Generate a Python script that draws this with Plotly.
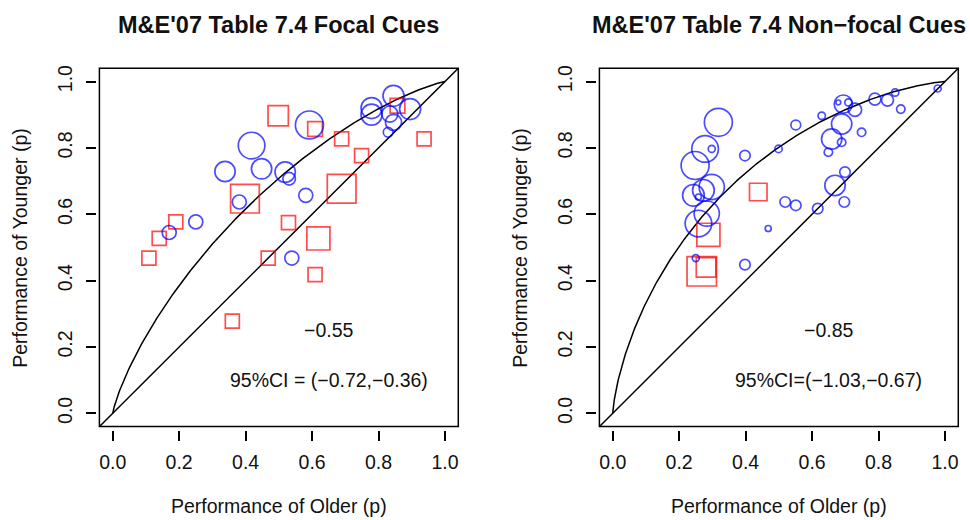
import numpy as np
import plotly.graph_objects as go
from statistics import NormalDist

# ---------------- data ----------------
# Focal cues: proportion correct for older (x) and younger (y) groups
focal_circ_old = [0.845, 0.779, 0.779, 0.895, 0.834, 0.845, 0.829, 0.592, 0.418,
                  0.338, 0.448, 0.519, 0.531, 0.581, 0.381, 0.250, 0.170, 0.539]
focal_circ_young = [0.957, 0.920, 0.900, 0.917, 0.902, 0.877, 0.847, 0.869, 0.807,
                    0.729, 0.737, 0.727, 0.707, 0.657, 0.637, 0.577, 0.545, 0.468]
focal_circ_wt = [3.0, 3.0, 3.0, 3.0, 2.3, 2.3, 1.4, 4.0, 3.8,
                 2.9, 2.9, 2.9, 1.8, 2.0, 2.0, 2.0, 2.0, 2.0]

focal_sq_old = [0.498, 0.609, 0.689, 0.857, 0.937, 0.749, 0.398, 0.689,
                0.619, 0.529, 0.190, 0.140, 0.109, 0.468, 0.609, 0.360]
focal_sq_young = [0.897, 0.857, 0.827, 0.927, 0.827, 0.777, 0.647, 0.677,
                  0.527, 0.575, 0.577, 0.527, 0.468, 0.468, 0.418, 0.278]
focal_sq_wt = [2.9, 2.1, 2.0, 2.1, 2.0, 2.0, 4.1, 4.1,
               3.3, 2.0, 2.0, 2.0, 2.0, 2.0, 2.0, 2.0]

# Non-focal cues
nonfocal_circ_old = [0.978, 0.850, 0.827, 0.789, 0.867, 0.694, 0.679, 0.709, 0.729,
                     0.629, 0.689, 0.749, 0.659, 0.689, 0.649, 0.551, 0.499, 0.398,
                     0.318, 0.278, 0.298, 0.248, 0.298, 0.273, 0.243, 0.258, 0.283,
                     0.258, 0.699, 0.669, 0.519, 0.551, 0.697, 0.617, 0.468, 0.250,
                     0.398]
nonfocal_circ_young = [0.979, 0.967, 0.944, 0.947, 0.917, 0.932, 0.937, 0.937, 0.915,
                       0.897, 0.872, 0.847, 0.827, 0.817, 0.787, 0.869, 0.797, 0.777,
                       0.877, 0.797, 0.797, 0.747, 0.682, 0.672, 0.657, 0.652, 0.602,
                       0.572, 0.727, 0.687, 0.637, 0.627, 0.637, 0.617, 0.557, 0.468,
                       0.448]
nonfocal_circ_wt = [1.0, 1.05, 1.7, 1.7, 1.2, 2.6, 0.7, 1.0, 1.9,
                    1.05, 2.9, 1.2, 2.9, 1.2, 1.2, 1.4, 1.05, 1.5,
                    4.0, 3.8, 1.0, 4.0, 3.6, 3.1, 3.1, 0.86, 3.6,
                    3.8, 1.5, 2.9, 1.5, 1.5, 1.5, 1.5, 0.86, 1.0,
                    1.5]

nonfocal_sq_old = [0.438, 0.288, 0.281, 0.268]
nonfocal_sq_young = [0.667, 0.538, 0.440, 0.428]
nonfocal_sq_wt = [2.5, 3.3, 2.8, 4.2]

# effect sizes and confidence intervals shown on each panel
effect = [-0.55, -0.85]
ci_text = ["95%CI = (\u22120.72,\u22120.36)", "95%CI=(\u22121.03,\u22120.67)"]
titles = ["M&E'07 Table 7.4 Focal Cues", "M&E'07 Table 7.4 Non\u2212focal Cues"]
tick_vals = [0.0, 0.2, 0.4, 0.6, 0.8, 1.0]
tick_text = ["0.0", "0.2", "0.4", "0.6", "0.8", "1.0"]
x_title = "Performance of Older (p)"
y_title = "Performance of Younger (p)"

# ---------------- geometry (pixels) ----------------
W, H = 970, 520
SX, SY = 332.3, 333.7          # pixels per unit
X0 = [112.7, 612.7]            # pixel x of value 0 in each panel
Y0 = 412.7                     # pixel y of value 0
LO, HI = -0.04, 1.04           # axis range
GAP = 3                        # space between box and tick marks
PX_PER_WT = 7.0
FONT = "Liberation Sans, Arial, Helvetica, sans-serif"
FS = 19.5
INK = "#111111"

def px_x(panel, v):
    return X0[panel] + v * SX

def px_y(v):
    return Y0 - v * SY

def pap_x(p):
    return p / W

def pap_y(p):
    return 1 - p / H

fig = go.Figure()

panels = [
    (focal_circ_old, focal_circ_young, focal_circ_wt,
     focal_sq_old, focal_sq_young, focal_sq_wt),
    (nonfocal_circ_old, nonfocal_circ_young, nonfocal_circ_wt,
     nonfocal_sq_old, nonfocal_sq_young, nonfocal_sq_wt),
]

nd = NormalDist()
grid = np.unique(np.concatenate([np.geomspace(1e-6, 0.02, 80),
                                 np.linspace(0.02, 1 - 1e-6, 400)]))

for i, (cx, cy, cw, sx, sy, sw) in enumerate(panels):
    xa = "x" if i == 0 else "x2"
    ya = "y" if i == 0 else "y2"
    d = -effect[i]
    curve_y = [nd.cdf(nd.inv_cdf(float(p)) + d) for p in grid]
    cxs = [0.0] + list(grid) + [1.0]
    cys = [0.0] + curve_y + [1.0]
    # equal-performance diagonal
    fig.add_trace(go.Scatter(x=[LO, HI], y=[LO, HI], mode="lines",
                             line=dict(color="black", width=1.5),
                             xaxis=xa, yaxis=ya, showlegend=False, hoverinfo="skip"))
    # model curve for the observed effect size
    fig.add_trace(go.Scatter(x=cxs, y=cys, mode="lines",
                             line=dict(color="black", width=1.5),
                             xaxis=xa, yaxis=ya, showlegend=False, hoverinfo="skip"))
    fig.add_trace(go.Scatter(x=sx, y=sy, mode="markers",
                             marker=dict(symbol="square-open", color="#ff0000",
                                         size=[w * PX_PER_WT for w in sw],
                                         line=dict(width=1.7, color="#ff0000")),
                             xaxis=xa, yaxis=ya, showlegend=False))
    fig.add_trace(go.Scatter(x=cx, y=cy, mode="markers",
                             marker=dict(symbol="circle-open", color="#0000ff",
                                         size=[w * PX_PER_WT for w in cw],
                                         line=dict(width=1.7, color="#0000ff")),
                             xaxis=xa, yaxis=ya, showlegend=False))

    bx0, bx1 = px_x(i, LO), px_x(i, HI)
    by0, by1 = px_y(HI), px_y(LO)
    # frame
    fig.add_shape(type="rect", xref="paper", yref="paper",
                  x0=pap_x(bx0), x1=pap_x(bx1), y0=pap_y(by1), y1=pap_y(by0),
                  line=dict(color="black", width=1.5), layer="above")

    xkey = "xaxis" if i == 0 else "xaxis2"
    ykey = "yaxis" if i == 0 else "yaxis2"
    fig.update_layout({
        xkey: dict(domain=[pap_x(bx0), pap_x(bx1)], range=[LO, HI],
                   anchor="free", position=pap_y(by1 + GAP),
                   tickvals=tick_vals, ticktext=tick_text, ticks="outside",
                   ticklen=10, tickwidth=1.5, tickcolor="black",
                   showgrid=False, zeroline=False, showline=False,
                   ticklabelstandoff=5,
                   tickfont=dict(family=FONT, size=FS, color=INK)),
        ykey: dict(domain=[pap_y(by1), pap_y(by0)], range=[LO, HI],
                   anchor="free", position=pap_x(bx0 - GAP),
                   tickvals=tick_vals, ticktext=tick_text, ticks="outside",
                   ticklen=10, tickwidth=1.5, tickcolor="black",
                   tickangle=-90, showgrid=False, zeroline=False, showline=False,
                   ticklabelstandoff=7,
                   tickfont=dict(family=FONT, size=FS, color=INK)),
    })

    cxm = (bx0 + bx1) / 2
    fig.add_annotation(x=pap_x(cxm), y=pap_y(22), xref="paper", yref="paper",
                       text="<b>" + titles[i].replace("&", "&amp;") + "</b>",
                       showarrow=False, xanchor="center", yanchor="middle",
                       font=dict(family=FONT, size=23.5, color=INK))
    fig.add_annotation(x=pap_x(cxm), y=pap_y(506), xref="paper", yref="paper",
                       text=x_title, showarrow=False, xanchor="center", yanchor="middle",
                       font=dict(family=FONT, size=FS, color=INK))
    fig.add_annotation(x=pap_x(bx0 - 79), y=pap_y((by0 + by1) / 2),
                       xref="paper", yref="paper", text=y_title, textangle=-90,
                       showarrow=False, xanchor="center", yanchor="middle",
                       font=dict(family=FONT, size=FS, color=INK))
    fig.add_annotation(x=0.65, y=0.25, xref=xa, yref=ya,
                       text="\u2212%.2f" % abs(effect[i]), showarrow=False,
                       font=dict(family=FONT, size=FS, color=INK))
    fig.add_annotation(x=0.65, y=0.10, xref=xa, yref=ya, text=ci_text[i],
                       showarrow=False, font=dict(family=FONT, size=FS, color=INK))

fig.update_layout(width=W, height=H, margin=dict(l=0, r=0, t=0, b=0),
                  paper_bgcolor="white", plot_bgcolor="white",
                  showlegend=False)

fig.write_html("out.html")
